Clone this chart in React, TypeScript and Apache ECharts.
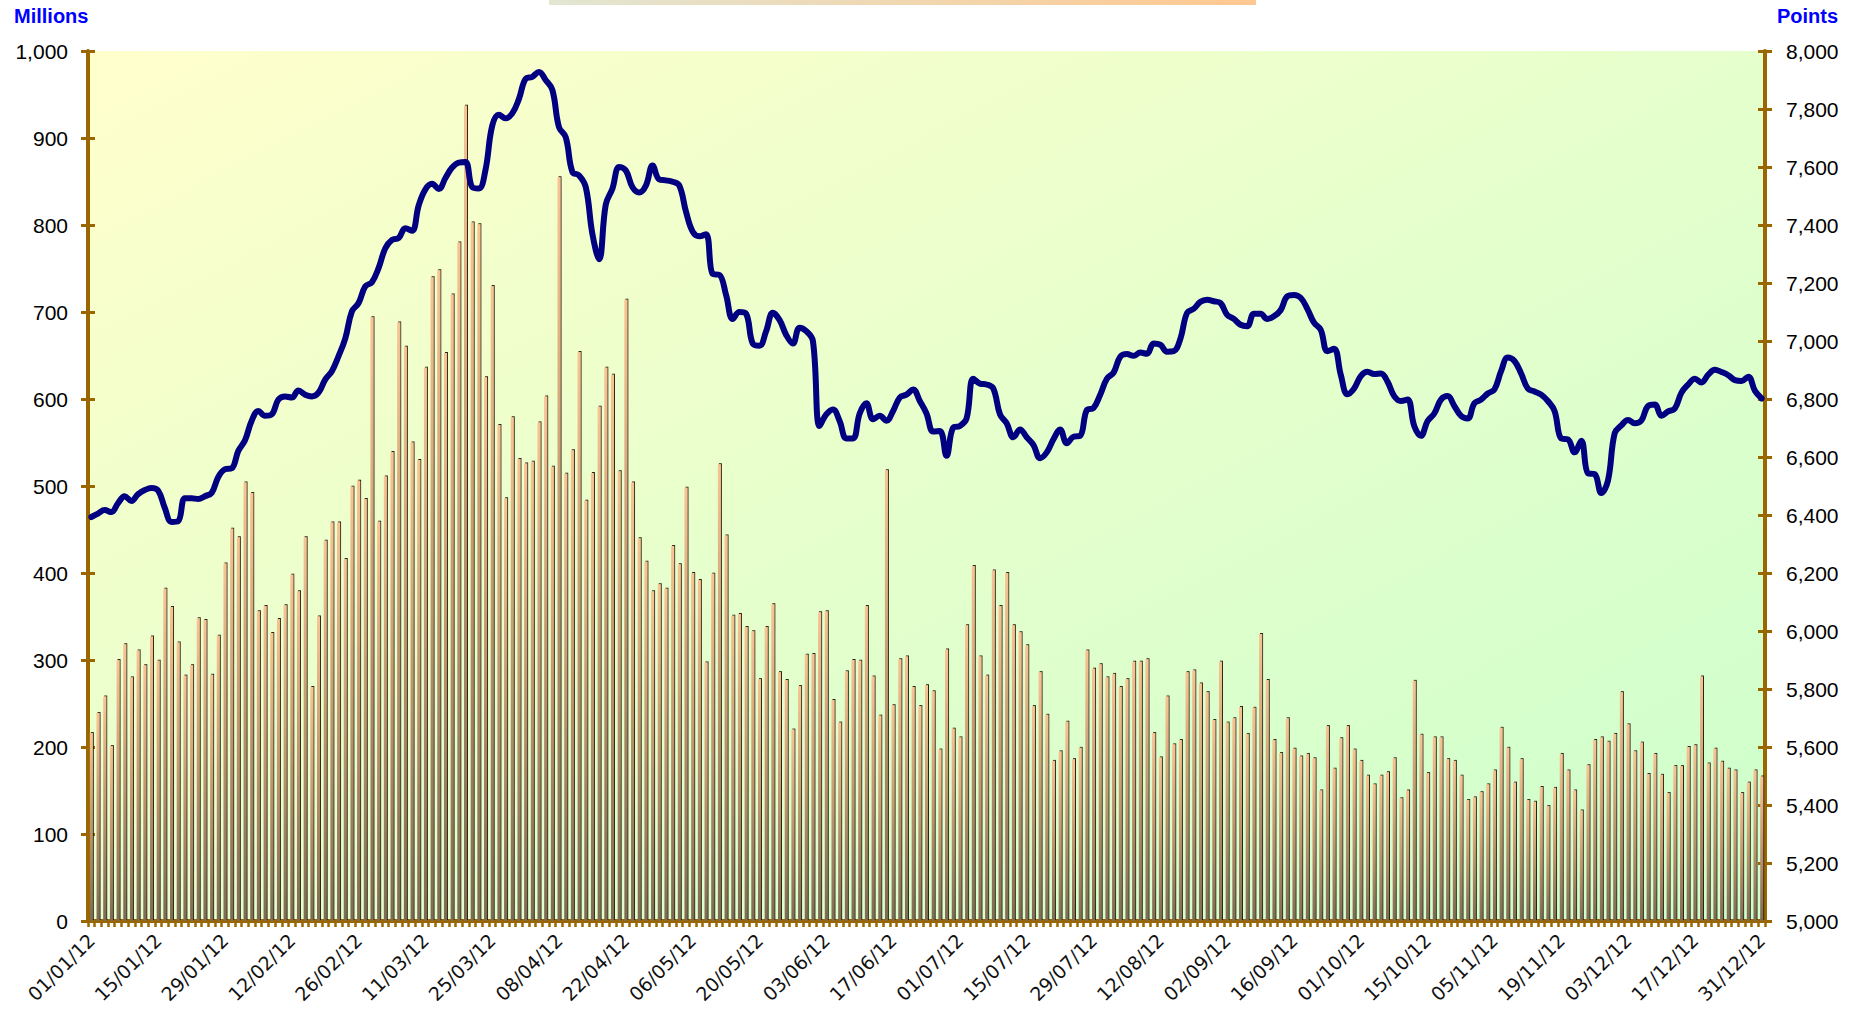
import React, { useEffect, useRef } from "react";
import * as echarts from "echarts";

// Trading calendar (Saturday–Wednesday week) for 2012, minus market holidays
const TRADING_WEEKDAYS = [6, 0, 1, 2, 3];
const HOLIDAYS = [
  "18/08/12", "19/08/12", "20/08/12", "21/08/12", "22/08/12",
  "23/09/12",
  "24/10/12", "27/10/12", "28/10/12", "29/10/12", "30/10/12",
];

function buildDates(): string[] {
  const out: string[] = [];
  const d = new Date(Date.UTC(2012, 0, 1));
  while (d.getUTCFullYear() === 2012) {
    const dd = String(d.getUTCDate()).padStart(2, "0");
    const mm = String(d.getUTCMonth() + 1).padStart(2, "0");
    const s = `${dd}/${mm}/12`;
    if (TRADING_WEEKDAYS.includes(d.getUTCDay()) && !HOLIDAYS.includes(s)) out.push(s);
    d.setUTCDate(d.getUTCDate() + 1);
  }
  return out;
}

const DATES = buildDates();

// Traded volume (millions)
const VOLUME_A = [216, 239, 258, 201, 300, 318, 280, 311, 294, 327, 299, 382, 361, 320, 282, 294, 348, 346, 283, 328, 411, 451, 441, 504, 492, 356, 362, 331, 347, 363, 398, 379, 441, 269, 350, 437, 458, 458, 416, 499, 506, 485];
const VOLUME_B = [694, 459, 511, 539, 688, 660, 550, 530, 636, 740, 748, 653, 720, 780, 937, 803, 801, 625, 730, 570, 486, 579, 531, 526, 528, 573, 603, 522, 855, 514, 541, 654, 483, 515, 591, 636, 628, 517, 714, 504, 440, 413];
const VOLUME_C = [379, 387, 382, 431, 410, 498, 400, 392, 297, 399, 525, 443, 351, 353, 338, 333, 278, 338, 364, 286, 277, 220, 270, 306, 307, 355, 356, 254, 228, 287, 300, 299, 362, 281, 236, 518, 248, 301, 304, 269, 247, 271];
const VOLUME_D = [264, 197, 312, 221, 211, 340, 408, 304, 282, 403, 362, 400, 340, 332, 317, 247, 286, 237, 184, 195, 229, 186, 199, 311, 290, 295, 280, 284, 269, 278, 298, 298, 301, 216, 188, 258, 203, 208, 286, 288, 273, 263];
const VOLUME_E = [231, 298, 228, 233, 246, 215, 245, 330, 277, 208, 193, 233, 198, 189, 192, 187, 150, 224, 175, 210, 224, 197, 184, 167, 157, 167, 171, 187, 141, 150, 276, 214, 170, 211, 211, 186, 184, 167, 139, 142, 148, 157];
const VOLUME_F = [173, 222, 199, 159, 186, 139, 137, 154, 132, 153, 192, 173, 150, 127, 179, 208, 211, 206, 215, 263, 226, 195, 205, 169, 192, 168, 147, 178, 178, 200, 202, 281, 181, 198, 183, 175, 173, 147, 159, 173, 166];

// Index level (points)
const INDEX_A = [6393, 6405, 6417, 6410, 6441, 6465, 6448, 6472, 6486, 6493, 6484, 6424, 6376, 6379, 6458, 6458, 6455, 6465, 6476, 6531, 6558, 6561, 6621, 6658, 6725, 6759, 6742, 6747, 6798, 6809, 6805, 6829, 6815, 6809, 6822, 6867, 6896, 6948, 7008, 7102, 7131, 7188];
const INDEX_B = [7203, 7252, 7320, 7349, 7355, 7389, 7380, 7468, 7523, 7542, 7524, 7562, 7598, 7615, 7617, 7531, 7526, 7591, 7742, 7780, 7768, 7785, 7835, 7904, 7911, 7928, 7900, 7866, 7737, 7703, 7583, 7571, 7531, 7368, 7282, 7471, 7526, 7600, 7588, 7530, 7512, 7536];
const INDEX_C = [7605, 7557, 7554, 7549, 7536, 7446, 7377, 7361, 7368, 7231, 7228, 7159, 7076, 7100, 7094, 6991, 6984, 7034, 7097, 7073, 7021, 6991, 7046, 7034, 7000, 6707, 6747, 6764, 6724, 6664, 6664, 6750, 6785, 6730, 6742, 6725, 6759, 6805, 6815, 6833, 6793, 6750];
const INDEX_D = [6688, 6690, 6604, 6702, 6707, 6733, 6870, 6853, 6850, 6836, 6747, 6716, 6668, 6695, 6668, 6642, 6596, 6616, 6661, 6695, 6647, 6670, 6673, 6762, 6769, 6815, 6870, 6891, 6946, 6955, 6949, 6960, 6956, 6991, 6987, 6963, 6965, 7008, 7097, 7111, 7135, 7142];
const INDEX_E = [7137, 7131, 7090, 7076, 7056, 7051, 7094, 7094, 7076, 7085, 7106, 7154, 7159, 7149, 7111, 7063, 7039, 6965, 6973, 6884, 6816, 6836, 6879, 6894, 6886, 6888, 6860, 6810, 6793, 6798, 6707, 6673, 6724, 6750, 6798, 6810, 6776, 6742, 6733, 6785, 6798, 6819];
const INDEX_F = [6833, 6896, 6943, 6931, 6888, 6836, 6826, 6815, 6793, 6759, 6664, 6661, 6616, 6656, 6544, 6541, 6476, 6519, 6682, 6709, 6728, 6716, 6726, 6776, 6781, 6742, 6757, 6767, 6822, 6850, 6870, 6857, 6884, 6901, 6893, 6882, 6865, 6862, 6877, 6828, 6802];

const VOLUME = [...VOLUME_A, ...VOLUME_B, ...VOLUME_C, ...VOLUME_D, ...VOLUME_E, ...VOLUME_F];
const INDEX = [...INDEX_A, ...INDEX_B, ...INDEX_C, ...INDEX_D, ...INDEX_E, ...INDEX_F];

const AXIS_COLOR = "#996600";
const fmt = (v: number) => v.toLocaleString("en-US");

export default function App() {
  const ref = useRef<HTMLDivElement>(null);

  useEffect(() => {
    if (!ref.current) return;
    const chart = echarts.init(ref.current, undefined, { renderer: "svg" });
    const yLabel = {
      fontFamily: "Liberation Sans, Arial, sans-serif",
      fontSize: 21,
      color: "#000",
    };
    chart.setOption({
      animation: false,
      backgroundColor: "#ffffff",
      grid: {
        left: 88,
        right: 89,
        top: 51,
        bottom: 103,
        show: true,
        borderWidth: 0,
        backgroundColor: new echarts.graphic.LinearGradient(0, 0, 1, 1, [
          { offset: 0, color: "#ffffcc" },
          { offset: 1, color: "#ccffcc" },
        ]),
      },
      graphic: [
        {
          type: "rect",
          shape: { x: 549, y: 0, width: 707, height: 5 },
          style: {
            fill: new echarts.graphic.LinearGradient(0, 0, 1, 0, [
              { offset: 0, color: "#e2e6d2" },
              { offset: 1, color: "#ffc890" },
            ]),
          },
          silent: true,
        },
        {
          type: "text",
          left: 14,
          top: 6,
          style: {
            text: "Millions",
            font: "bold 20px 'Liberation Sans', Arial, sans-serif",
            fill: "#0000ff",
          },
        },
        {
          type: "text",
          right: 16,
          top: 6,
          style: {
            text: "Points",
            font: "bold 20px 'Liberation Sans', Arial, sans-serif",
            fill: "#0000ff",
          },
        },
      ],
      xAxis: {
        type: "category",
        data: DATES,
        boundaryGap: true,
        axisLine: { show: true, lineStyle: { color: AXIS_COLOR, width: 4 } },
        axisTick: {
          show: true,
          interval: 0,
          length: 6,
          lineStyle: { color: AXIS_COLOR, width: 2.5 },
        },
        axisLabel: {
          interval: 9,
          rotate: 45,
          margin: 16,
          fontFamily: "DejaVu Sans, sans-serif",
          fontSize: 19,
          color: "#111",
        },
        splitLine: { show: false },
      },
      yAxis: [
        {
          type: "value",
          position: "left",
          min: 0,
          max: 1000,
          interval: 100,
          axisLine: { show: true, lineStyle: { color: AXIS_COLOR, width: 4 } },
          axisTick: { show: true, length: 7, lineStyle: { color: AXIS_COLOR, width: 3 } },
          axisLabel: { ...yLabel, margin: 20, formatter: fmt },
          splitLine: { show: false },
        },
        {
          type: "value",
          position: "right",
          min: 5000,
          max: 8000,
          interval: 200,
          axisLine: { show: true, lineStyle: { color: AXIS_COLOR, width: 4 } },
          axisTick: { show: true, length: 7, lineStyle: { color: AXIS_COLOR, width: 3 } },
          axisLabel: { ...yLabel, margin: 21, formatter: fmt },
          splitLine: { show: false },
        },
        {
          type: "value",
          position: "left",
          min: 0,
          max: 1000,
          interval: 100,
          axisLine: { show: false },
          axisTick: { show: true, inside: true, length: 7, lineStyle: { color: AXIS_COLOR, width: 3 } },
          axisLabel: { show: false },
          splitLine: { show: false },
        },
        {
          type: "value",
          position: "right",
          min: 5000,
          max: 8000,
          interval: 200,
          axisLine: { show: false },
          axisTick: { show: true, inside: true, length: 7, lineStyle: { color: AXIS_COLOR, width: 3 } },
          axisLabel: { show: false },
          splitLine: { show: false },
        },
      ],
      series: [
        {
          type: "bar",
          name: "Volume",
          yAxisIndex: 0,
          data: VOLUME,
          barWidth: 3,
          itemStyle: {
            color: new echarts.graphic.LinearGradient(0, 0, 0, 1, [
              { offset: 0, color: "#f8c494" },
              { offset: 0.5, color: "#c0966e" },
              { offset: 1, color: "#806a52" },
            ]),
            shadowColor: "rgba(20,10,0,0.9)",
            shadowOffsetX: 1,
            shadowOffsetY: -1,
            shadowBlur: 0,
          },
          z: 2,
        },
        {
          type: "line",
          name: "Index",
          yAxisIndex: 1,
          data: INDEX,
          smooth: 0.4,
          symbol: "none",
          lineStyle: { color: "#000080", width: 6, cap: "round", join: "round" },
          z: 5,
        },
      ],
    });
    return () => chart.dispose();
  }, []);

  return (
    <div
      ref={ref}
      style={{ position: "fixed", left: 0, top: 0, width: 1854, height: 1024, background: "#fff" }}
    />
  );
}
